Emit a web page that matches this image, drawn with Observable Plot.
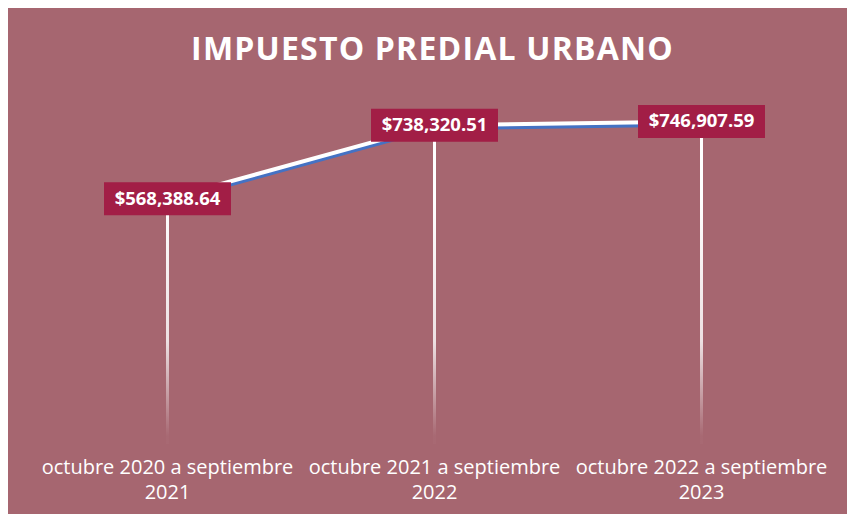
<!DOCTYPE html>
<html>
<head>
<meta charset="utf-8">
<script src="https://cdn.jsdelivr.net/npm/d3@7"></script>
<script src="https://cdn.jsdelivr.net/npm/@observablehq/plot@0.6"></script>
<style>
html, body { margin: 0; padding: 0; background: #ffffff; }
#panel {
  position: absolute; left: 8px; top: 8px; width: 839px; height: 506px;
  background: #a66670; overflow: hidden;
  font-family: "Open Sans", sans-serif;
}
#title {
  position: absolute; left: 5px; top: 0; width: 839px; height: 80px;
  line-height: 80px; text-align: center; color: #ffffff;
  font-weight: 700; font-size: 32px; letter-spacing: 1.2px;
}
#chart { position: absolute; left: 0; top: 70px; }
</style>
</head>
<body>
<div id="panel">
  <div id="title"></div>
  <div id="chart"></div>
</div>
<script>
const titleText = "IMPUESTO PREDIAL URBANO";
const periods = [
  "octubre 2020 a septiembre 2021",
  "octubre 2021 a septiembre 2022",
  "octubre 2022 a septiembre 2023"
];
const amounts = [568388.64, 738320.51, 746907.59];

const data = periods.map((p, i) => ({period: p, amount: amounts[i]}));
const fmt = v => "$" + d3.format(",.2f")(v);

document.getElementById("title").textContent = titleText;

const boxSymbol = {
  draw(context) {
    context.rect(-63.5, -16.5, 127, 33);
  }
};

const svg = Plot.plot({
  width: 839,
  height: 436,
  marginLeft: 159,
  marginRight: 146,
  marginTop: 20,
  marginBottom: 70,
  style: {background: "transparent", color: "#ffffff", fontFamily: "'Open Sans', sans-serif"},
  x: {type: "point", domain: periods, padding: 0},
  y: {domain: [0, 800000], axis: null},
  marks: [
    Plot.ruleX(data, {x: "period", y1: "amount", y2: 0, stroke: "url(#dropFade)", strokeWidth: 3}),
    Plot.line(data, {x: "period", y: "amount", stroke: "#4472c4", strokeWidth: 4, dy: 3}),
    Plot.line(data, {x: "period", y: "amount", stroke: "#ffffff", strokeWidth: 4}),
    Plot.dot(data, {x: "period", y: "amount", symbol: boxSymbol, fill: "#a21e46", stroke: "none"}),
    Plot.text(data, {x: "period", y: "amount", text: d => fmt(d.amount), fill: "#ffffff",
      fontWeight: "bold", fontSize: 18.5}),
    Plot.axisX({tickSize: 0, tickPadding: 12, fontSize: 20, lineHeight: 1.25,
      tickFormat: d => d.replace(/ (\d{4})$/, "\n$1"), label: null})
  ]
});

const defs = d3.select(svg).insert("defs", ":first-child");
const grad = defs.append("linearGradient")
  .attr("id", "dropFade")
  .attr("gradientUnits", "userSpaceOnUse")
  .attr("x1", 0).attr("x2", 0).attr("y1", 120).attr("y2", 358);
grad.append("stop").attr("offset", 0).attr("stop-color", "#ffffff").attr("stop-opacity", 1);
grad.append("stop").attr("offset", 0.6).attr("stop-color", "#ffffff").attr("stop-opacity", 0.8);
grad.append("stop").attr("offset", 1).attr("stop-color", "#ffffff").attr("stop-opacity", 0.02);

document.getElementById("chart").appendChild(svg);
</script>
</body>
</html>
